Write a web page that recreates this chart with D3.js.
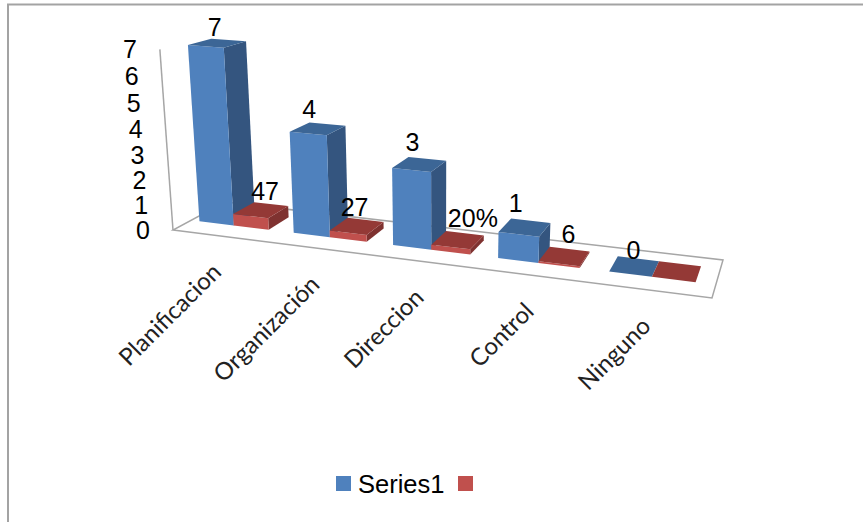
<!DOCTYPE html>
<html><head><meta charset="utf-8">
<script src="https://cdnjs.cloudflare.com/ajax/libs/d3/7.8.5/d3.min.js"></script>
<style>html,body{margin:0;padding:0;background:#fff}svg{display:block}</style>
</head><body><svg id="chart" width="863" height="522"></svg>
<script>
// Chart values
const categories = ["Planificacion", "Organización", "Direccion", "Control", "Ninguno"];
const seriesCounts = [7, 4, 3, 1, 0];
const seriesShares = [0.47, 0.27, 0.20, 0.06, 0];
const countLabels = ["7", "4", "3", "1", "0"];
const shareLabels = ["47", "27", "20%", "6", ""];
const valueTicks = [0, 1, 2, 3, 4, 5, 6, 7];
const legendNames = ["Series1", ""];

// Per-label offsets from the projected box top
const countLabelShift = [[9, -10], [1, -16], [1, -19], [-3, -22], [3, -15]];
const shareLabelShift = [[-6, -4], [-11, -4], [8, -6], [-1, -6], [0, 0]];

const FONT = "'Liberation Sans', Arial, sans-serif";
const svg = d3.select("#chart");

// Plot floor corners on the page: front-left, front-right, back-right, back-left
const floor = [[173, 230], [712, 298], [723, 260], [225, 202]];
const verticalVanish = [440, 3900];
const heightPerUnit = -0.0067;

// Unit square to quadrilateral projective map
function squareToQuad(q) {
  const [[x0, y0], [x1, y1], [x2, y2], [x3, y3]] = q;
  const dx1 = x1 - x2, dx2 = x3 - x2, sx = x0 - x1 + x2 - x3;
  const dy1 = y1 - y2, dy2 = y3 - y2, sy = y0 - y1 + y2 - y3;
  const den = dx1 * dy2 - dx2 * dy1;
  const g = (sx * dy2 - dx2 * sy) / den, h = (dx1 * sy - sx * dy1) / den;
  return [[x1 - x0 + g * x1, x3 - x0 + h * x3, x0],
          [y1 - y0 + g * y1, y3 - y0 + h * y3, y0],
          [g, h, 1]];
}
const H = squareToQuad(floor);

// Projects (along the axis, into the depth, value height) onto the page
function project(u, w, v) {
  const t = heightPerUnit * v;
  const X = H[0][0] * u + H[0][1] * w + H[0][2] + t * verticalVanish[0];
  const Y = H[1][0] * u + H[1][1] * w + H[1][2] + t * verticalVanish[1];
  const S = H[2][0] * u + H[2][1] * w + H[2][2] + t;
  return [X / S, Y / S];
}

const band = d3.scaleBand().domain(categories).range([0, 1]).paddingInner(0.26).paddingOuter(0.13).align(0.35);
const seriesBand = d3.scaleBand().domain([0, 1]).range([0, band.bandwidth()]);
const valueScale = d3.scaleLinear().domain([0, 7]).range([0, 7]);
const depthFront = 0.33, depthBack = 0.76;

const poly = pts => "M" + pts.map(p => p.join(",")).join("L") + "Z";

// Outer frame
svg.append("path").attr("d", "M8,522V4.5H863").attr("fill", "none").attr("stroke", "#a3a3a3").attr("stroke-width", 2);

// Floor and value axis
svg.append("path").attr("d", poly(floor)).attr("fill", "none").attr("stroke", "#a6a6a6").attr("stroke-width", 1.5);
svg.append("path").attr("d", "M" + project(0, 0, valueScale(0)).join(",") + "L" + project(0, 0, valueScale(7)).join(","))
  .attr("fill", "none").attr("stroke", "#a6a6a6").attr("stroke-width", 1.5);

// Value tick labels sit a fixed distance left of the axis
svg.append("g").selectAll("text").data(valueTicks).join("text")
  .attr("x", d => project(0, 0, valueScale(d))[0] - 30)
  .attr("y", d => project(0, 0, valueScale(d))[1] + 9)
  .attr("text-anchor", "middle").attr("font-family", FONT).attr("font-size", 25).attr("fill", "#000")
  .text(d => d);

const palettes = [
  { front: "#4f81bd", side: "#34557f", top: "#3c6696" },
  { front: "#c0504d", side: "#7f3230", top: "#943936" }
];

// Boxes are painted left to right so nearer faces cover farther ones
const bars = [];
categories.forEach((c, i) => {
  bars.push({ c, s: 0, v: seriesCounts[i] });
  bars.push({ c, s: 1, v: seriesShares[i] });
});
const barLayer = svg.append("g");
bars.forEach(b => {
  const u0 = band(b.c) + seriesBand(b.s), u1 = u0 + seriesBand.bandwidth();
  const h = valueScale(b.v), col = palettes[b.s];
  const g = barLayer.append("g");
  if (b.v > 0) {
    g.append("path").attr("fill", col.side).attr("d", poly([project(u1, depthFront, 0), project(u1, depthBack, 0), project(u1, depthBack, h), project(u1, depthFront, h)]));
    g.append("path").attr("fill", col.front).attr("d", poly([project(u0, depthFront, 0), project(u1, depthFront, 0), project(u1, depthFront, h), project(u0, depthFront, h)]));
  }
  g.append("path").attr("fill", col.top).attr("d", poly([project(u0, depthFront, h), project(u1, depthFront, h), project(u1, depthBack, h), project(u0, depthBack, h)]));
});

// Data labels above the boxes
const labelLayer = svg.append("g").attr("font-family", FONT).attr("font-size", 25).attr("fill", "#000").attr("text-anchor", "middle");
categories.forEach((c, i) => {
  const uc = band(c) + seriesBand(0) + seriesBand.bandwidth() / 2;
  const p = project(uc, depthFront, valueScale(seriesCounts[i]));
  labelLayer.append("text").attr("x", p[0] + countLabelShift[i][0]).attr("y", p[1] + countLabelShift[i][1]).text(countLabels[i]);
  const ur = band(c) + seriesBand(1) + seriesBand.bandwidth() / 2;
  const q = project(ur, depthBack, valueScale(seriesShares[i]));
  labelLayer.append("text").attr("x", q[0] + shareLabelShift[i][0]).attr("y", q[1] + shareLabelShift[i][1]).text(shareLabels[i]);
});

// Category labels rotated along the front edge
svg.append("g").selectAll("text").data(categories).join("text")
  .attr("transform", d => {
    const p = project(band(d) + band.bandwidth() / 2, 0, 0);
    return `translate(${p[0] + 6},${p[1] + 38}) rotate(-45)`;
  })
  .attr("text-anchor", "end").attr("font-family", "Lato, sans-serif").attr("font-size", 24).attr("fill", "#222")
  .text(d => d);

// Legend
const legendX = d3.scaleOrdinal().domain([0, 1]).range([336, 458]);
const legend = svg.append("g");
legendNames.forEach((name, i) => {
  legend.append("rect").attr("x", legendX(i)).attr("y", 476).attr("width", 15).attr("height", 15).attr("fill", palettes[i].front);
  if (name) legend.append("text").attr("x", legendX(i) + 22).attr("y", 492.5).attr("font-family", FONT).attr("font-size", 25.5).attr("fill", "#000").text(name);
});
</script></body></html>
